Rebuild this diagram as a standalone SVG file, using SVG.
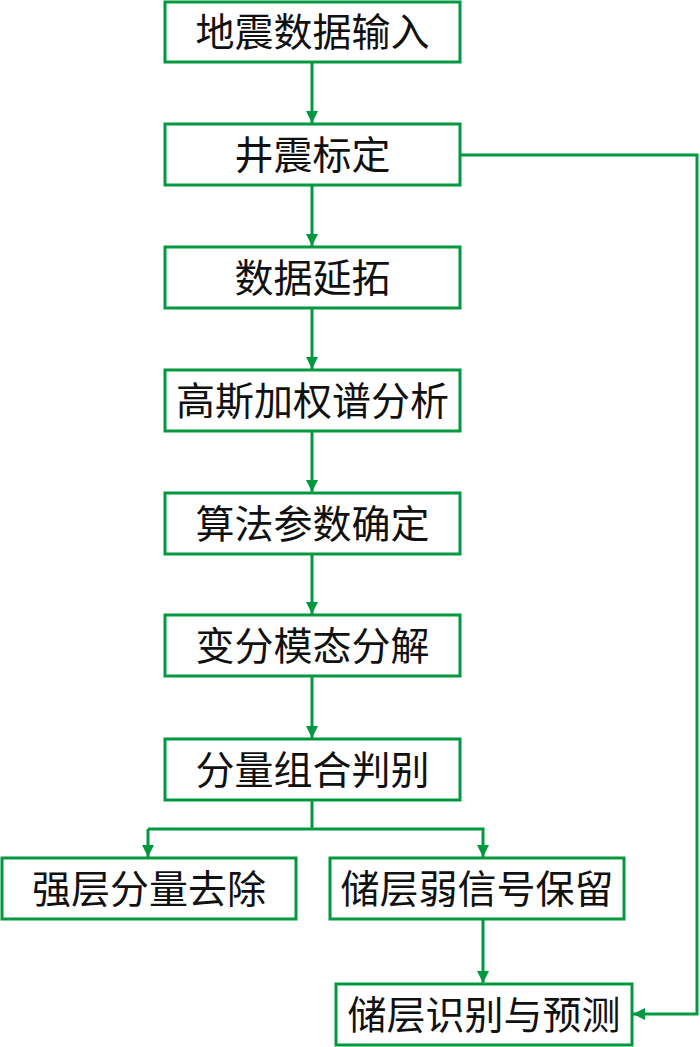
<svg xmlns="http://www.w3.org/2000/svg" width="700" height="1047" viewBox="0 0 700 1047">
<style>
.box{fill:#fff;stroke:#009940;stroke-width:3}
.lbl{font-family:"Noto Sans CJK SC","Noto Sans CJK JP",sans-serif;font-size:39px;fill:#111;text-anchor:middle}
.con{fill:none;stroke:#009940;stroke-width:3}
</style>
<defs>
<marker id="ah" viewBox="0 0 12 12" refX="12" refY="6" markerWidth="12" markerHeight="12" markerUnits="userSpaceOnUse" orient="auto">
<path d="M0,0 L12,6 L0,12 Z" fill="#009940"/>
</marker>
</defs>
<rect width="700" height="1047" fill="#fff"/>
<g id="connectors">
<line class="con" x1="312" y1="62" x2="312" y2="123" marker-end="url(#ah)"/>
<line class="con" x1="312" y1="185" x2="312" y2="246" marker-end="url(#ah)"/>
<line class="con" x1="312" y1="308" x2="312" y2="369" marker-end="url(#ah)"/>
<line class="con" x1="312" y1="431" x2="312" y2="492" marker-end="url(#ah)"/>
<line class="con" x1="312" y1="554" x2="312" y2="614" marker-end="url(#ah)"/>
<line class="con" x1="312" y1="676" x2="312" y2="738" marker-end="url(#ah)"/>
<polyline class="con" points="312,800 312,829"/>
<polyline class="con" points="148,829 483,829 483,857" marker-end="url(#ah)"/>
<polyline class="con" points="148,829 148,857" marker-end="url(#ah)"/>
<line class="con" x1="483" y1="919" x2="483" y2="983" marker-end="url(#ah)"/>
<polyline class="con" points="460,155 697,155 697,1014 633,1014" marker-end="url(#ah)"/>
</g>
<g id="n1"><rect class="box" x="165" y="2" width="295" height="60"/><text class="lbl" x="312.5" y="46">地震数据输入</text></g>
<g id="n2"><rect class="box" x="165" y="124" width="295" height="61"/><text class="lbl" x="312.5" y="169">井震标定</text></g>
<g id="n3"><rect class="box" x="165" y="247" width="295" height="61"/><text class="lbl" x="312.5" y="292">数据延拓</text></g>
<g id="n4"><rect class="box" x="165" y="370" width="295" height="61"/><text class="lbl" x="312.5" y="415">高斯加权谱分析</text></g>
<g id="n5"><rect class="box" x="165" y="493" width="295" height="61"/><text class="lbl" x="312.5" y="538">算法参数确定</text></g>
<g id="n6"><rect class="box" x="165" y="615" width="295" height="61"/><text class="lbl" x="312.5" y="660">变分模态分解</text></g>
<g id="n7"><rect class="box" x="165" y="739" width="295" height="61"/><text class="lbl" x="312.5" y="784">分量组合判别</text></g>
<g id="n8"><rect class="box" x="2" y="858" width="294" height="61"/><text class="lbl" x="149" y="903">强层分量去除</text></g>
<g id="n9"><rect class="box" x="330" y="858" width="294" height="61"/><text class="lbl" x="477" y="903">储层弱信号保留</text></g>
<g id="n10"><rect class="box" x="336" y="984" width="296" height="61"/><text class="lbl" x="484" y="1029">储层识别与预测</text></g>
</svg>
